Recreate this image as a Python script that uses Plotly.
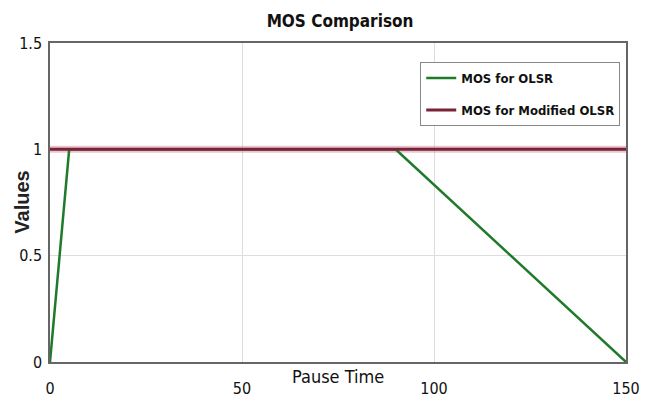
import plotly.graph_objects as go

pause_time_olsr = [0, 5, 90, 150]
mos_olsr = [0, 1, 1, 0]
pause_time_mod = [0, 150]
mos_mod = [1, 1]

x_ticks = [0, 50, 100, 150]
y_ticks = [0, 0.5, 1, 1.5]
y_tick_labels = ["0", "0.5", "1", "1.5"]

NARROW = "DejaVu Sans Condensed, Liberation Sans Narrow, Arial Narrow, sans-serif"

fig = go.Figure()
# glow for red line
fig.add_trace(go.Scatter(x=pause_time_mod, y=mos_mod, mode="lines",
                         line=dict(color="rgba(200,110,140,0.4)", width=7),
                         showlegend=False, hoverinfo="skip"))
fig.add_trace(go.Scatter(x=pause_time_olsr, y=mos_olsr, mode="lines",
                         name="<b>MOS for OLSR</b>", legendgroup="a",
                         line=dict(color="#1f7a2a", width=2.5)))
fig.add_trace(go.Scatter(x=pause_time_mod, y=mos_mod, mode="lines",
                         name="<b>MOS for Modified OLSR</b>", legendgroup="b",
                         line=dict(color="#7a2236", width=3)))

fig.update_layout(
    width=641, height=391,
    margin=dict(l=42, r=23, t=35, b=37, autoexpand=False),
    paper_bgcolor="white", plot_bgcolor="white",
    title=dict(text="<b>MOS Comparison</b>", x=0.518, xanchor="center",
               y=0.966, yanchor="middle",
               font=dict(family=NARROW, size=17, color="#111")),
    showlegend=True,
    legend=dict(x=0.99, y=0.94, xanchor="right", yanchor="top",
                bgcolor="white", bordercolor="#888", borderwidth=1,
                font=dict(family=NARROW, size=13, color="#111"),
                itemwidth=30, tracegroupgap=12),
    font=dict(family=NARROW, color="#222"),
)
fig.update_xaxes(range=[0, 150], tickvals=x_ticks, ticktext=[str(t) for t in x_ticks],
                 showgrid=True, gridcolor="#dddddd", gridwidth=1,
                 showline=True, linecolor="#666", linewidth=1.5, mirror=True,
                 ticks="outside", ticklen=11, tickcolor="rgba(0,0,0,0)",
                 tickfont=dict(family=NARROW, size=16, color="#111"),
                 zeroline=False, automargin=False)
fig.update_yaxes(range=[0, 1.5], tickvals=y_ticks, ticktext=y_tick_labels,
                 showgrid=True, gridcolor="#dddddd", gridwidth=1,
                 showline=True, linecolor="#666", linewidth=1.5, mirror=True,
                 ticks="outside", ticklen=3, tickcolor="rgba(0,0,0,0)",
                 tickfont=dict(family=NARROW, size=16, color="#111"),
                 zeroline=False, automargin=False)
fig.add_annotation(text="<b>Values</b>", x=-0.05, xref="paper", y=0.5, yref="paper",
                   xanchor="center", yanchor="middle", textangle=-90, showarrow=False,
                   font=dict(family="Liberation Sans, Arial, sans-serif", size=20, color="#222"))
fig.add_annotation(text="Pause Time", x=0.5, xref="paper", y=-0.005, yref="paper",
                   yanchor="top", xanchor="center", showarrow=False,
                   font=dict(family=NARROW, size=18, color="#111"))

fig.write_html("out.html")
